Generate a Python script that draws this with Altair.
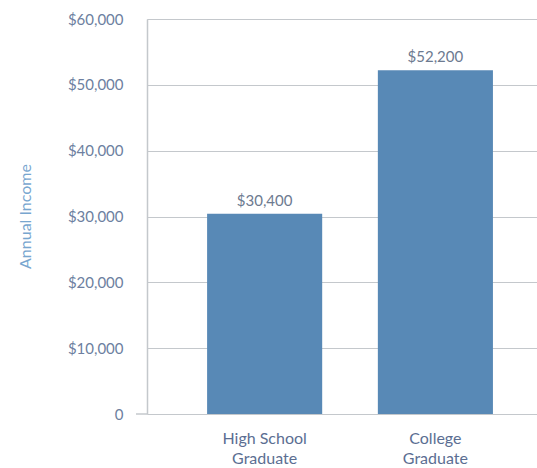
import altair as alt
import pandas as pd

categories = ["High School Graduate", "College Graduate"]
incomes = [30400, 52200]
value_labels = ["$30,400", "$52,200"]

df = pd.DataFrame({"cat": categories, "income": incomes, "label": value_labels})

FONT = "Lato"

x_enc = alt.X(
    "cat:N",
    sort=categories,
    scale=alt.Scale(paddingInner=0.326, paddingOuter=0.305, align=0.577),
    axis=alt.Axis(
        title=None,
        labelExpr="datum.value == 'High School Graduate' ? ['High School', 'Graduate'] : ['College', 'Graduate']",
        labelAngle=0,
        labelFont=FONT,
        labelFontSize=16,
        labelColor="#5b6e92",
        labelPadding=16,
        labelLineHeight=20,
        domain=False,
        ticks=False,
    ),
)

y_scale = alt.Scale(domain=[0, 60000], nice=False)

bars = alt.Chart(df).mark_bar(color="#5889b6").encode(
    x=x_enc,
    y=alt.Y(
        "income:Q",
        scale=y_scale,
        axis=alt.Axis(
            title="Annual Income",
            titleFont=FONT,
            titleFontSize=16,
            titleFontWeight="normal",
            titleColor="#78a6cf",
            titleX=-122,
            titleY=197,
            titleAlign="center",
            titleBaseline="middle",
            titleAngle=270,
            values=[0, 10000, 20000, 30000, 40000, 50000, 60000],
            labelExpr="datum.value == 0 ? '0' : '$' + format(datum.value, ',')",
            labelFont=FONT,
            labelFontSize=15,
            labelColor="#6d7fa0",
            labelPadding=24,
            ticks=False,
            domainColor="#c4c8cc",
            domainWidth=1.5,
            gridColor="#c4c8cc",
            gridWidth=1.2,
        ),
    ),
)

text = alt.Chart(df).mark_text(
    baseline="bottom", dy=-5, font=FONT, fontSize=15, color="#6d7a90"
).encode(
    x=alt.X("cat:N", sort=categories),
    y=alt.Y("income:Q", scale=y_scale),
    text="label:N",
)

zero_ext = alt.Chart(pd.DataFrame({"v": [0]})).mark_rule(
    color="#c4c8cc", strokeWidth=1.5
).encode(
    x=alt.value(-11),
    x2=alt.value(0),
    y=alt.Y("v:Q", scale=y_scale),
)

chart = (
    alt.layer(bars, text, zero_ext)
    .properties(
        width=390,
        height=395,
        padding={"left": 147, "top": 19, "right": 0, "bottom": 54},
        autosize=alt.AutoSizeParams(type="none"),
    )
    .configure_view(stroke=None)
    .configure(background="white")
)

chart.save("out.html", embed_options={"renderer": "svg", "actions": False})
